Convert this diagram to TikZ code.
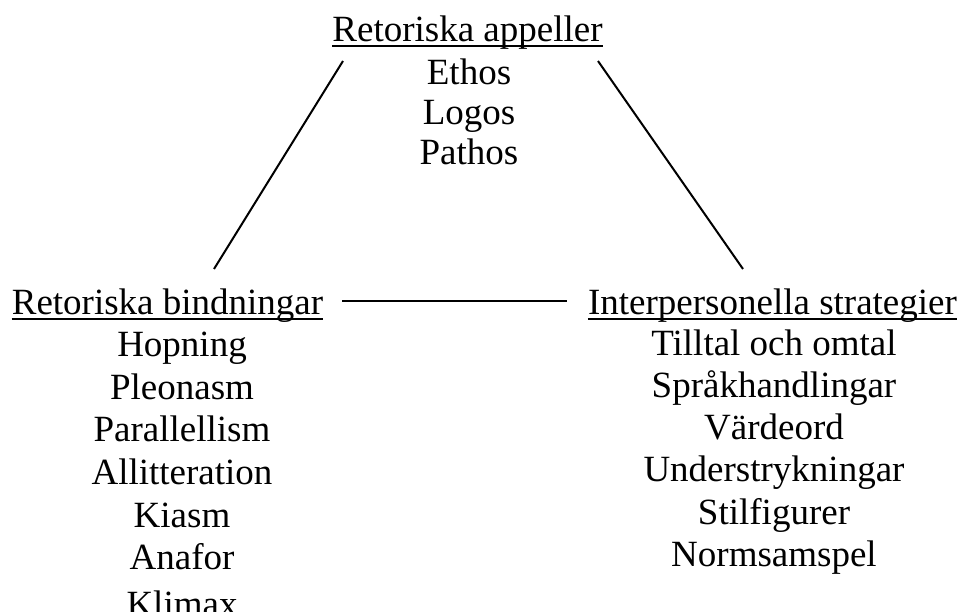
\documentclass[tikz,border=0pt]{standalone}
\usepackage{fontspec}
\setmainfont{Liberation Serif}
\begin{document}
\begin{tikzpicture}[x=1pt,y=-1pt,
  txt/.style={inner sep=0pt,anchor=base,font=\fontsize{37}{40}\selectfont},
  conn/.style={line width=2pt,draw=black},
  uline/.style={line width=2pt,draw=black}]
\useasboundingbox (0,0) rectangle (962,612);
% top group
\node[txt] (tt) at (467.5,42) {Retoriska appeller};
\node[txt] (t1) at (469,85) {Ethos};
\node[txt] (t2) at (469,125) {Logos};
\node[txt] (t3) at (469,165) {Pathos};
% left group
\node[txt] (lt) at (167.5,315) {Retoriska bindningar};
\node[txt] (l1) at (182,357) {Hopning};
\node[txt] (l2) at (182,399.5) {Pleonasm};
\node[txt] (l3) at (182,442) {Parallellism};
\node[txt] (l4) at (182,484.5) {Allitteration};
\node[txt] (l5) at (182,527) {Kiasm};
\node[txt] (l6) at (182,569.5) {Anafor};
\node[txt] (l7) at (182,616) {Klimax};
% right group
\node[txt] (rt) at (772.5,315) {Interpersonella strategier};
\node[txt] (r1) at (774,356) {Tilltal och omtal};
\node[txt] (r2) at (774,398) {Språkhandlingar};
\node[txt] (r3) at (774,440) {Värdeord};
\node[txt] (r4) at (774,482) {Understrykningar};
\node[txt] (r5) at (774,524) {Stilfigurer};
\node[txt] (r6) at (774,566) {Normsamspel};
% underlines
\draw[uline] ([yshift=-4.5pt]tt.base west) -- ([yshift=-4.5pt]tt.base east);
\draw[uline] ([yshift=-4.5pt]lt.base west) -- ([yshift=-4.5pt]lt.base east);
\draw[uline] ([yshift=-4.5pt]rt.base west) -- ([yshift=-4.5pt]rt.base east);
% connector ends
\coordinate (tL) at (343,61);
\coordinate (lT) at (214,269);
\coordinate (tR) at (598,61);
\coordinate (rT) at (743,269);
\coordinate (lR) at (342,301);
\coordinate (rL) at (567,301);
\draw[conn] (tL) -- (lT);
\draw[conn] (tR) -- (rT);
\draw[conn] (lR) -- (rL);
\end{tikzpicture}
\end{document}
